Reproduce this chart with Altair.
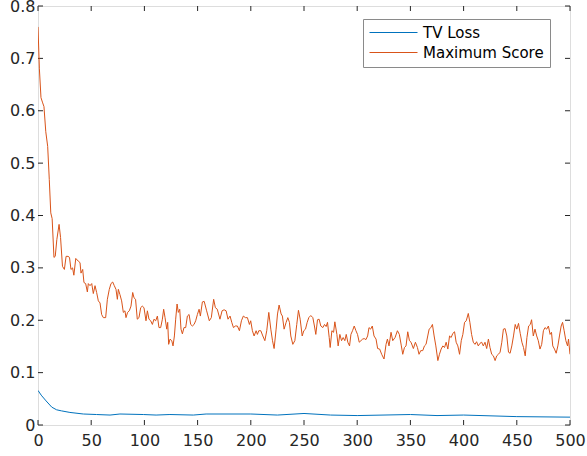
import altair as alt
import pandas as pd

# Maximum Score series (x = iteration, y = value)
ms_x = [0, 1.3, 2.8, 4.4, 5.6, 7.3, 9.1, 10.6, 12, 13.3, 15, 16.2, 17.7, 19.8, 21.2, 23, 24.8, 26.4, 28.2, 29.6,
        31, 32.5, 33.7, 35.5, 37.8, 39.5, 40.4, 42, 43.2, 44.8, 46.4, 47.3, 48.9, 50.5, 52, 53.6, 55.1, 56.7, 58.3, 59.8,
        61.4, 63.6, 65.2, 67, 68.6, 70.2, 71.7, 73.3, 74.6, 75.5, 77, 78.6, 80.2, 81.7, 82.7, 84.2, 85.8, 87.4, 89, 90.2,
        91.7, 93.3, 94.9, 96.5, 98, 99.6, 101.5, 102.8, 104.3, 105.9, 107.5, 109, 110.6, 112.2, 113.7, 115.3, 116.9, 118.1, 119.4, 121,
        121.9, 122.8, 124.1, 125.7, 126.9, 128.2, 129.4, 130.7, 131.9, 133.2, 134.4, 135.7, 137.2, 138.8, 140.4, 142, 143.5, 145.1, 146.7, 148.2,
        149.8, 151.4, 152.6, 154.5, 156.2, 158.5, 161, 162.9, 165.1, 166.7, 168.5, 171, 173, 174.9, 176.8, 178.6, 180.5, 182.1, 183.7, 185.5,
        187.4, 189.3, 191.2, 193, 194.9, 196.8, 198.7, 199.9, 201.5, 203.1, 205, 206.2, 207.5, 209.4, 211.3, 213.2, 215, 216.9, 218.8, 220.4,
        221.9, 223.8, 225.1, 226.6, 228.5, 229.7, 231.3, 233.2, 234.8, 236.3, 237.6, 239.5, 241.4, 243.2, 244.8, 246.4, 248.3, 249.8, 251.4, 253,
        254.5, 256.4, 258.3, 259.8, 261.1, 262.7, 264.2, 265.8, 267.7, 269.3, 270.8, 272.1, 273.7, 274.6, 276.2, 277.8, 279, 280.9, 282.1, 283.7,
        285.3, 286.8, 288.4, 289.7, 291.2, 292.8, 294.1, 295.6, 297.2, 298.8, 300.3, 301.9, 303.5, 305.1, 306.6, 308.2, 309.8, 311.1, 312.6, 314.2,
        315.8, 317.7, 319.2, 321.1, 323, 325.2, 327.1, 328.4, 329.9, 331.8, 333.4, 335.6, 337.8, 339.6, 341.5, 342.8, 344.4, 345.9, 347.5, 349.1,
        350.6, 352.8, 354.7, 356.6, 358.1, 359.7, 361.6, 363.2, 364.7, 366.3, 367.6, 369.2, 370.7, 372.3, 373.9, 375.8, 377.3, 378.9, 380.5, 382.1,
        383.6, 385.2, 386.8, 388.3, 389.9, 391.5, 393, 394.6, 396.2, 397.8, 399.3, 400.9, 402.5, 404.4, 405.9, 407.5, 409.1, 410.7, 412.2, 413.8,
        415.4, 417, 418.5, 420.1, 421.7, 423.3, 424.8, 426.4, 428, 429.6, 431.1, 432.7, 434.3, 435.9, 437.4, 439, 440.6, 442.2, 443.7, 445.3,
        446.9, 448.5, 450, 451.6, 453.2, 454.8, 456.3, 457.9, 459.5, 461.1, 462.7, 463.9, 465.5, 467.1, 468.7, 470.2, 471.8, 473.4, 475, 476.5,
        478.1, 479.7, 481.3, 482.6, 483.8, 485.4, 487, 488.6, 490.1, 491.7, 493, 494.5, 496.1, 497.7, 498.6, 500]
ms_y = [0.760, 0.680, 0.625, 0.615, 0.608, 0.560, 0.532, 0.469, 0.405, 0.394, 0.320, 0.322, 0.354, 0.383, 0.358, 0.303, 0.297, 0.322, 0.322, 0.320,
        0.297, 0.300, 0.286, 0.318, 0.313, 0.310, 0.290, 0.297, 0.272, 0.270, 0.254, 0.270, 0.266, 0.270, 0.251, 0.266, 0.253, 0.237, 0.233, 0.211,
        0.205, 0.205, 0.240, 0.259, 0.270, 0.273, 0.266, 0.259, 0.240, 0.259, 0.249, 0.237, 0.215, 0.218, 0.205, 0.215, 0.218, 0.227, 0.253, 0.243,
        0.240, 0.202, 0.205, 0.224, 0.227, 0.224, 0.199, 0.218, 0.202, 0.199, 0.192, 0.202, 0.199, 0.208, 0.186, 0.186, 0.202, 0.221, 0.205, 0.183,
        0.196, 0.154, 0.164, 0.161, 0.151, 0.170, 0.202, 0.231, 0.215, 0.221, 0.183, 0.174, 0.186, 0.186, 0.208, 0.211, 0.192, 0.189, 0.192, 0.199,
        0.211, 0.221, 0.208, 0.235, 0.236, 0.218, 0.199, 0.205, 0.240, 0.224, 0.221, 0.202, 0.218, 0.220, 0.218, 0.202, 0.208, 0.196, 0.186, 0.189,
        0.189, 0.180, 0.199, 0.208, 0.205, 0.205, 0.192, 0.199, 0.180, 0.170, 0.180, 0.173, 0.180, 0.180, 0.170, 0.161, 0.180, 0.215, 0.183, 0.161,
        0.146, 0.183, 0.212, 0.229, 0.212, 0.208, 0.183, 0.196, 0.205, 0.196, 0.170, 0.154, 0.161, 0.192, 0.219, 0.202, 0.170, 0.180, 0.183, 0.196,
        0.205, 0.209, 0.205, 0.189, 0.173, 0.201, 0.202, 0.189, 0.186, 0.192, 0.188, 0.196, 0.167, 0.148, 0.180, 0.177, 0.197, 0.173, 0.151, 0.173,
        0.161, 0.167, 0.161, 0.173, 0.158, 0.151, 0.173, 0.180, 0.189, 0.180, 0.173, 0.158, 0.161, 0.164, 0.165, 0.163, 0.170, 0.186, 0.183, 0.189,
        0.170, 0.164, 0.146, 0.145, 0.135, 0.126, 0.154, 0.164, 0.151, 0.177, 0.161, 0.167, 0.180, 0.173, 0.151, 0.135, 0.148, 0.151, 0.178, 0.161,
        0.158, 0.146, 0.158, 0.148, 0.135, 0.142, 0.142, 0.151, 0.154, 0.170, 0.183, 0.186, 0.192, 0.170, 0.151, 0.123, 0.135, 0.145, 0.151, 0.148,
        0.158, 0.145, 0.170, 0.167, 0.175, 0.178, 0.158, 0.151, 0.135, 0.161, 0.173, 0.196, 0.199, 0.213, 0.196, 0.173, 0.158, 0.154, 0.159, 0.151,
        0.156, 0.158, 0.151, 0.158, 0.146, 0.164, 0.148, 0.135, 0.132, 0.123, 0.132, 0.135, 0.139, 0.158, 0.183, 0.184, 0.170, 0.139, 0.137, 0.151,
        0.170, 0.192, 0.183, 0.194, 0.175, 0.158, 0.148, 0.132, 0.167, 0.189, 0.192, 0.201, 0.170, 0.183, 0.170, 0.161, 0.145, 0.154, 0.180, 0.186,
        0.183, 0.189, 0.173, 0.177, 0.151, 0.145, 0.137, 0.151, 0.170, 0.189, 0.196, 0.180, 0.161, 0.151, 0.164, 0.135]

# TV Loss series
tv_x = [0, 3, 7.6, 13, 17.5, 22, 30, 42.6, 55, 67.7, 77, 99, 111, 124, 146, 158, 200, 225, 250, 275, 300, 350, 375, 400, 450, 500]
tv_y = [0.066, 0.057, 0.046, 0.034, 0.029, 0.027, 0.024, 0.021, 0.020, 0.019, 0.021, 0.020, 0.019, 0.020, 0.019, 0.021,
        0.021, 0.019, 0.022, 0.019, 0.018, 0.020, 0.018, 0.019, 0.016, 0.015]

series_names = ["TV Loss", "Maximum Score"]
series_colors = ["#0072BD", "#D95319"]
x_ticks = [0, 50, 100, 150, 200, 250, 300, 350, 400, 450, 500]
y_ticks = [0, 0.1, 0.2, 0.3, 0.4, 0.5, 0.6, 0.7, 0.8]

W, H = 532, 419
TICK = 5
FONT = "DejaVu Sans"
TXT = "#262626"

df = pd.concat([
    pd.DataFrame({"x": tv_x, "y": tv_y, "s": series_names[0], "o": range(len(tv_x))}),
    pd.DataFrame({"x": ms_x, "y": ms_y, "s": series_names[1], "o": range(len(ms_x))}),
])

xs = alt.Scale(domain=[0, 500], nice=False, zero=False)
ys = alt.Scale(domain=[0, 0.8], nice=False, zero=False)

lines = alt.Chart(df).mark_line(strokeWidth=1, clip=True).encode(
    x=alt.X("x:Q", scale=xs,
            axis=alt.Axis(values=x_ticks, title=None, grid=False, ticks=False, tickSize=0, domain=False,
                          labelFlush=False, labelPadding=7, labelFont=FONT, labelFontSize=16, labelColor=TXT)),
    y=alt.Y("y:Q", scale=ys,
            axis=alt.Axis(values=y_ticks, title=None, grid=False, ticks=False, tickSize=0, domain=False,
                          labelFlush=False, format=".1~f", labelPadding=3, labelFont=FONT, labelFontSize=16,
                          labelColor=TXT)),
    color=alt.Color("s:N", scale=alt.Scale(domain=series_names, range=series_colors),
                    legend=alt.Legend(title=None, orient="none", legendX=325, legendY=13,
                                      symbolType="stroke", symbolSize=2304, symbolStrokeWidth=1,
                                      clipHeight=15,
                                      labelFont=FONT, labelFontSize=15, labelColor="#000000",
                                      labelOffset=5, rowPadding=4, padding=6,
                                      strokeColor="#8a8a8a", fillColor="#ffffff")),
    order="o:Q",
)

xt = pd.DataFrame({"t": x_ticks})
yt = pd.DataFrame({"t": y_ticks})
tick_color = "#262626"
xb = alt.Chart(xt).mark_rule(color=tick_color, strokeWidth=1).encode(
    x=alt.X("t:Q", scale=xs), y=alt.value(H), y2=alt.value(H - TICK))
xtp = alt.Chart(xt).mark_rule(color=tick_color, strokeWidth=1).encode(
    x=alt.X("t:Q", scale=xs), y=alt.value(0), y2=alt.value(TICK))
yl = alt.Chart(yt).mark_rule(color=tick_color, strokeWidth=1).encode(
    y=alt.Y("t:Q", scale=ys), x=alt.value(0), x2=alt.value(TICK))
yr = alt.Chart(yt).mark_rule(color=tick_color, strokeWidth=1).encode(
    y=alt.Y("t:Q", scale=ys), x=alt.value(W), x2=alt.value(W - TICK))

chart = alt.layer(xb, xtp, yl, yr, lines).properties(
    width=W, height=H,
    autosize=alt.AutoSizeParams(type="none"),
    padding={"left": 38, "top": 6, "right": 17, "bottom": 31},
).configure_view(stroke="#7f7f7f", strokeWidth=1).configure(background="#ffffff")

chart.save("out.html", embed_options={"renderer": "svg", "actions": False})
